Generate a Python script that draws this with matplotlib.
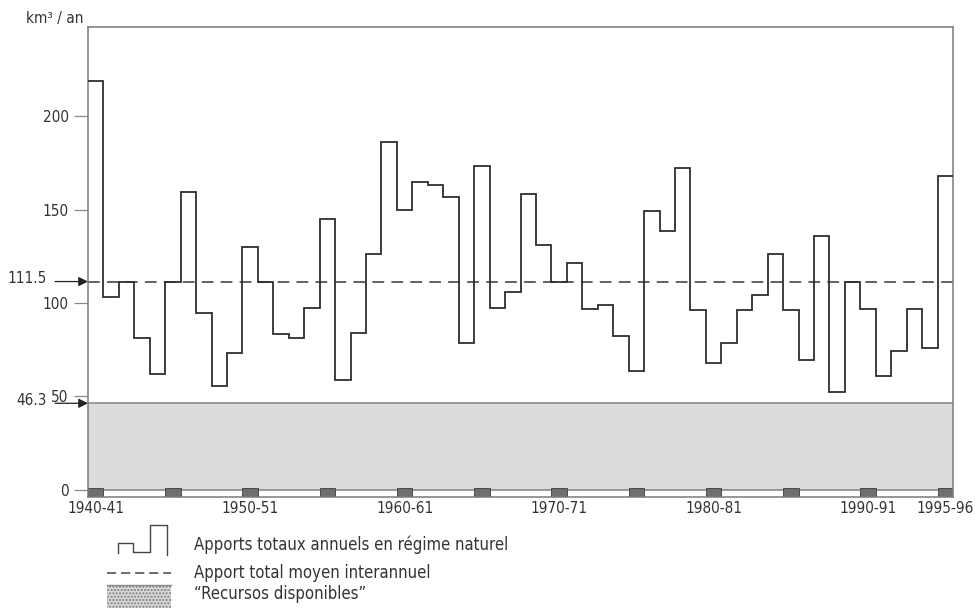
import numpy as np
import matplotlib
matplotlib.use("Agg")
import matplotlib.pyplot as plt
from matplotlib.lines import Line2D
from matplotlib.patches import Rectangle
import matplotlib.transforms as mtransforms

plt.rcParams['font.family'] = ['DejaVu Sans']
plt.rcParams['font.stretch'] = 'condensed'

# annual inflows, 1940-41 .. 1995-96 (km3 / an)
apports = [219, 103, 111.5, 81.5, 62, 111.5, 159.5, 94.5, 55.5, 73,
           130, 111.5, 83.5, 81, 97.5, 145, 58.5, 84, 126.5, 186,
           150, 165, 163, 157, 78.5, 173.5, 97.5, 106, 158.5, 131,
           111.5, 121.5, 97, 99, 82.5, 63.5, 149.5, 138.5, 172.5, 96,
           68, 78.5, 96, 104.5, 126.5, 96.5, 69.5, 136, 52.5, 111.5,
           97, 61, 74.5, 97, 76, 168]
moyenne = 111.5
recursos = 46.3
yticks = [0, 50, 100, 150, 200]
xlabels = ["1940-41", "1950-51", "1960-61", "1970-71", "1980-81", "1990-91", "1995-96"]
xlabel_years = [0, 10, 20, 30, 40, 50, 55]
block_years = list(range(0, 56, 5))

W, H = 975, 608
def px(x, y):
    return (x / W, 1 - y / H)

fig = plt.figure(figsize=(W / 100, H / 100), dpi=100)
ax = fig.add_axes([88 / W, 1 - 497 / H, (953 - 88) / W, (497 - 26.7) / H])

n = len(apports)
ybot = -3.9
ax.set_xlim(0, n)
ax.set_ylim(ybot, 248)

# "recursos disponibles" band
ax.axhspan(0, recursos, color='#dcdcdc', lw=0, zorder=0)
ax.axhline(recursos, color='#8a8a8a', lw=1.2, zorder=1)
ax.axhline(0, color='#8a8a8a', lw=1.2, zorder=1)

# year blocks on the bottom strip
ax.bar(block_years, [-ybot + 1.0] * len(block_years), bottom=ybot, width=1, align='edge',
       color='#6e6e6e', edgecolor='#4a4a4a', lw=0.7, zorder=2)

# mean line
ax.axhline(moyenne, color='#555555', lw=1.3, dashes=(6.5, 4), zorder=2)

# annual steps
ax.stairs(apports, np.arange(n + 1), baseline=None, color='#2e2e2e', lw=1.3, zorder=3)

for s in ax.spines.values():
    s.set_color('#7a7a7a')
    s.set_linewidth(1.1)

ax.set_yticks(yticks)
ax.set_yticklabels([str(v) for v in yticks], fontsize=11, color='#333333')
ax.tick_params(axis='y', length=10, width=0.9, color='#8a8a8a', pad=4)
ax.set_xticks([])

# x labels, centred under the year blocks
trans_x = mtransforms.blended_transform_factory(ax.transData, fig.transFigure)
for yr, lab in zip(xlabel_years, xlabels):
    ax.text(yr + 0.5, 1 - 508.5 / H, lab, transform=trans_x, ha='center', va='center',
            fontsize=11, color='#333333')

# arrows for mean and resources
trans_y = mtransforms.blended_transform_factory(fig.transFigure, ax.transData)
for val, lab in [(moyenne, "111.5"), (recursos, "46.3")]:
    ax.annotate("", xy=(88 / W, val), xycoords=trans_y, xytext=(55 / W, val), textcoords=trans_y,
                arrowprops=dict(arrowstyle='-|>', color='#222222', lw=0.9, mutation_scale=14,
                                shrinkA=0, shrinkB=0))
    ax.text(47 / W, val + 1.5, lab, transform=trans_y, ha='right', va='center',
            fontsize=11, color='#333333')

fig.text(26 / W, 1 - 19 / H, "km³ / an", ha='left', va='center', fontsize=11, color='#333333')

# legend drawn by hand
sx = [118, 118, 133, 133, 150, 150, 167, 167]
sy = [553, 543, 543, 552, 552, 525, 525, 555]
fig.add_artist(Line2D([x / W for x in sx], [1 - y / H for y in sy], color='#444444', lw=1.0))
fig.add_artist(Line2D([107 / W, 171 / W], [1 - 573 / H, 1 - 573 / H], color='#444444',
                      lw=1.1, dashes=(6, 3.2)))
fig.add_artist(Rectangle(px(107, 609), 64 / W, 24 / H, transform=fig.transFigure,
                         facecolor='#dadada', edgecolor='#7a7a7a', lw=0, hatch='.....'))
fig.add_artist(Line2D([107 / W, 171 / W], [1 - 585 / H, 1 - 585 / H], color='#8a8a8a', lw=1.0))

legend_txt = ["Apports totaux annuels en régime naturel",
              "Apport total moyen interannuel",
              "\u201cRecursos disponibles\u201d"]
for y, t in zip([545, 573, 594], legend_txt):
    fig.text(194 / W, 1 - y / H, t, ha='left', va='center', fontsize=12, color='#333333')

fig.savefig("out.png", dpi=100)
